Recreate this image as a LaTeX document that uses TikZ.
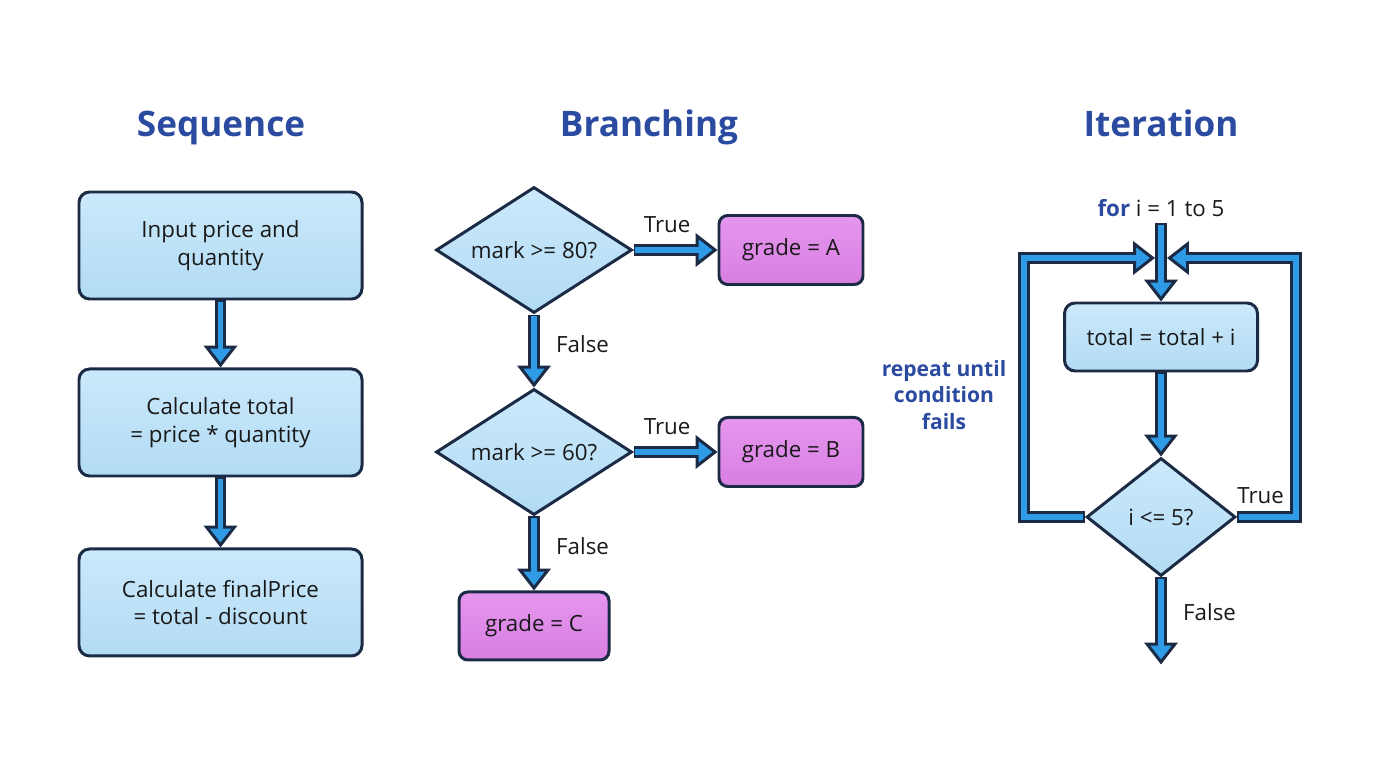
\documentclass[tikz,border=0pt]{standalone}
\usepackage{xcolor}
\usepackage{fontspec}
\setmainfont{Open Sans}
\usepackage{tikz}
\usetikzlibrary{positioning,calc,shapes.geometric}
\usetikzlibrary{arrows.meta}

\definecolor{navy}{HTML}{1B2B45}
\definecolor{flowblue}{HTML}{2F9BE6}
\definecolor{titleblue}{HTML}{2B4BA0}
\definecolor{boxtop}{HTML}{CBE9FB}
\definecolor{boxbot}{HTML}{B2DBF4}
\definecolor{gradetop}{HTML}{E596EE}
\definecolor{gradebot}{HTML}{D87EE2}

\begin{document}
\begin{tikzpicture}[every node/.style={font=\fontsize{12.7}{15.7}\selectfont, text=black!90},
    title/.style={font=\fontsize{20}{24}\selectfont\bfseries, text=titleblue, anchor=base},
    stepbox/.style={rectangle, rounded corners=6pt, draw=navy, line width=1.7pt, top color=boxtop, bottom color=boxbot, align=center},
    seqbox/.style={stepbox, minimum width=5.66cm, minimum height=2.14cm},
    gradebox/.style={rectangle, rounded corners=5pt, draw=navy, line width=1.7pt, top color=gradetop, bottom color=gradebot, minimum width=2.88cm, minimum height=1.38cm},
    test/.style={diamond, aspect=1.55, inner sep=0pt, draw=navy, line width=1.7pt, top color=boxtop, bottom color=boxbot},
    flow/.style={draw=navy, line width=6.6pt, -{Triangle[length=12.5pt, width=19pt, line width=1.7pt, fill=flowblue]},
        postaction={draw=flowblue, line width=3.3pt, -, shorten >=10pt, shorten <=1pt}}]
    \useasboundingbox (0,0) rectangle (27.52,-15.36);

    \node[title] (seqT) at (4.42,-2.72) {Sequence};
    \node[title] (brT) at (12.98,-2.72) {Branching};
    \node[title] (itT) at (23.22,-2.72) {Iteration};

    % sequence
    \node[seqbox] (s1) at (4.41,-4.91) {Input price and\\quantity};
    \node[seqbox, below=1.34cm of s1] (s2) {Calculate total\\= price * quantity};
    \node[seqbox, below=1.40cm of s2] (s3) {Calculate finalPrice\\= total - discount};
    \draw[flow] (s1) -- (s2);
    \draw[flow] (s2) -- (s3);

    % branching
    \node[test, minimum width=3.92cm, minimum height=2.52cm] (d1) at (10.68,-5.0) {mark >= 80?};
    \node[gradebox, right=1.68cm of d1] (gA) {grade = A};
    \node[test, minimum width=3.92cm, minimum height=2.52cm, below=1.46cm of d1] (d2) {mark >= 60?};
    \node[gradebox, right=1.68cm of d2] (gB) {grade = B};
    \node[gradebox, minimum width=3.0cm, minimum height=1.36cm, below=1.48cm of d2] (gC) {grade = C};
    \draw[flow] (d1) -- node[pos=0.4, above=3pt] {True} (gA);
    \draw[flow] (d1) -- node[pos=0.4, right=6pt] {False} (d2);
    \draw[flow] (d2) -- node[pos=0.4, above=3pt] {True} (gB);
    \draw[flow] (d2) -- node[pos=0.4, right=6pt] {False} (gC);

    % iteration
    \node (forL) at (23.22,-4.16) {\textcolor{titleblue}{\bfseries for} i = 1 to 5};
    \node[stepbox, minimum width=3.86cm, minimum height=1.36cm] (body) at (23.22,-6.74) {total = total + i};
    \node[test, minimum width=2.98cm, minimum height=2.36cm, below=1.68cm of body] (d3) {i <= 5?};
    \node[align=center, font=\fontsize{12}{15.3}\selectfont\bfseries, text=titleblue] (rep) at (18.88,-7.9) {repeat until\\condition\\fails};
    \coordinate[below=1.74cm of d3.south] (exit);
    \coordinate (loopL) at (20.48,-5.16);
    \coordinate (loopR) at (25.92,-5.16);
    \coordinate (joinL) at (23.10,-5.16);
    \coordinate (joinR) at (23.34,-5.16);
    \draw[flow] (forL) -- (body);
    \draw[flow] (body) -- (d3);
    \draw[flow] (d3) -- node[pos=0.4, right=6pt] {False} (exit);
    \draw[flow] (d3.west) -| (loopL) -- (joinL);
    \draw[flow] (d3.east) -| node[pos=0.2, above=1pt] {True} (loopR) -- (joinR);
\end{tikzpicture}
\end{document}
